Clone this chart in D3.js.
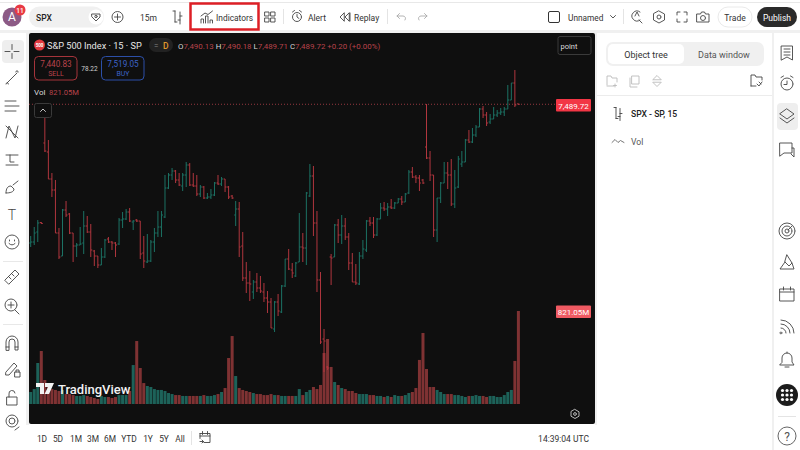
<!DOCTYPE html>
<html>
<head>
<meta charset="utf-8">
<script src="https://cdn.jsdelivr.net/npm/d3@7"></script>
<style>
  html, body { margin: 0; padding: 0; background: #fff; overflow: hidden; }
  svg { display: block; font-family: Roboto, sans-serif; }
</style>
</head>
<body>
<div id="chart"></div>
<script>
// price bars
const opens = [7351,7352,7362,7371.5,7451,7442,7415,7404,7361,7338,7384,7380,7361,7348,7349,7351,7368,7362,7343,7338,
  7329,7337,7355,7352,7351,7350,7374,7375,7382,7372,7374,7373,7341,7332,7333,7352,7361,7367,7377,7406,
  7419,7423,7414,7408,7419,7429,7409,7408,7400,7407,7396,7397,7399,7411,7410,7415,7407,7398,7379,7385,
  7348,7316,7311,7302,7312,7306,7302,7296,7292,7265,7292,7282,7308,7335,7324,7318,7332,7347,7346,7398,
  7418,7371,7314,7255,7227,7337,7337,7369,7359,7368,7357,7331,7312,7310,7338,7344,7373,7371,7359,7375,
  7386,7385,7387,7386,7391,7395,7392,7401,7422,7417,7416,7414,7447,7436,7419,7364,7396,7411,7421,7419,
  7390,7407,7430,7432,7454,7452,7459,7467,7485,7479,7472,7475,7479,7481,7482,7485,7494,7511,7490.13];
const highs = [7358,7367,7374,7372,7481,7454,7421,7414,7366,7385,7393,7381,7361,7351,7367,7383,7378,7370,7344,7338,
  7346,7355,7357,7353,7352,7376,7382,7385,7386,7374,7375,7373,7358,7360,7354,7366,7383,7383,7419,7421,
  7426,7424,7421,7421,7432,7431,7421,7419,7409,7408,7401,7405,7412,7419,7417,7415,7408,7399,7393,7392,
  7362,7332,7323,7314,7321,7318,7311,7303,7296,7293,7300,7309,7335,7345,7331,7332,7381,7361,7402,7430,
  7428,7383,7322,7265,7228,7340,7370,7375,7379,7376,7361,7341,7330,7342,7354,7374,7377,7377,7376,7391,
  7392,7391,7395,7392,7396,7398,7401,7424,7427,7419,7419,7415,7490,7443,7419,7396,7412,7432,7432,7435,
  7424,7438,7443,7455,7464,7466,7469,7486,7488,7482,7480,7487,7484,7486,7487,7509,7511,7524,7490.18];
const lows = [7347,7349,7352,7370,7442,7415,7397,7361,7335,7338,7377,7360,7332,7337,7349,7340,7361,7337,7328,7326,
  7329,7336,7351,7344,7337,7349,7366,7374,7372,7364,7372,7335,7326,7331,7332,7342,7357,7357,7376,7405,
  7414,7411,7408,7403,7407,7408,7407,7398,7397,7395,7395,7395,7398,7409,7408,7402,7395,7395,7368,7337,
  7313,7301,7293,7295,7302,7301,7292,7281,7266,7262,7278,7281,7307,7324,7316,7317,7332,7332,7329,7397,
  7358,7302,7250,7222,7224,7309,7337,7351,7350,7354,7324,7312,7309,7309,7335,7342,7368,7356,7358,7375,
  7383,7378,7385,7385,7391,7389,7392,7400,7416,7411,7403,7410,7435,7413,7357,7352,7391,7411,7405,7388,
  7386,7406,7427,7432,7451,7451,7457,7467,7476,7468,7470,7475,7477,7479,7478,7485,7494,7487,7489.71];
const closes = [7352,7361,7371,7370.5,7443,7415,7404,7361,7337,7384,7379,7361,7348,7349,7350,7368,7362,7344,7338,7329,
  7337,7354,7352,7351,7349,7374,7375,7382,7373,7373,7373,7340,7333,7333,7352,7361,7367,7379,7406,7419,
  7423,7414,7409,7419,7429,7409,7408,7400,7407,7396,7397,7399,7411,7410,7415,7407,7397,7396,7385,7347,
  7316,7311,7310,7312,7306,7303,7296,7292,7266,7292,7283,7308,7335,7325,7321,7331,7347,7346,7401,7418,
  7371,7314,7252,7253,7226,7336,7369,7359,7368,7357,7331,7312,7311,7338,7345,7373,7371,7359,7375,7386,
  7385,7387,7386,7391,7395,7392,7400,7422,7417,7416,7411,7411,7436,7419,7364,7396,7411,7421,7419,7390,
  7406,7435,7432,7454,7452,7459,7467,7485,7479,7471,7475,7479,7481,7482,7485,7494,7511,7489,7489.72];
// volume in millions
const volumes = [106,132,362,468,212,159,132,124,115,124,88,88,79,71,71,79,71,62,53,44,
  71,62,62,53,62,79,79,79,115,344,556,318,185,159,150,132,124,124,115,97,
  88,79,79,71,71,71,71,71,71,79,71,71,79,88,106,141,406,600,247,141,
  124,115,106,97,88,88,79,79,88,79,79,71,71,71,71,71,132,79,106,124,
  150,132,168,450,574,327,194,168,141,132,115,115,97,88,88,88,79,79,71,71,
  62,71,62,79,71,71,79,97,106,141,389,627,309,150,150,124,106,88,88,88,
  79,79,71,62,71,71,79,71,71,62,71,71,62,62,79,106,124,380,821.05];

const rangeLabels = [["1D",42],["5D",58],["1M",76],["3M",93],["6M",110],["YTD",129],["1Y",148],["5Y",164],["All",180]];
const ohlcLabels = [["O","7,490.13"],["H","7,490.18"],["L","7,489.71"],["C","7,489.72"]];

const width = 800;
const height = 450;
const red = "#b0363e";
const teal = "#1c7264";

const svg = d3.select("#chart").append("svg").attr("width", width).attr("height", height);

// scales
const x = d3.scaleLinear().domain([0, opens.length - 1]).range([30.7, 518.4]);
const y = d3.scaleLinear().domain([7490, 7290]).range([104, 304]);
const yVol = d3.scaleLinear().domain([0, 821.05]).range([404, 311]);

function text(s, px, py, size, fill, opts = {}) {
  return svg.append("text")
    .attr("x", px).attr("y", py)
    .attr("font-size", size).attr("fill", fill)
    .attr("text-anchor", opts.anchor || "start")
    .attr("font-weight", opts.weight || 400)
    .text(s);
}

function icon(px, py, d, stroke = "#444", w = 0.9) {
  svg.append("path")
    .attr("transform", `translate(${px},${py})`)
    .attr("d", d).attr("fill", "none")
    .attr("stroke", stroke).attr("stroke-width", w)
    .attr("stroke-linecap", "round").attr("stroke-linejoin", "round");
}

function rect(rx, ry, w, h, fill, opts = {}) {
  return svg.append("rect")
    .attr("x", rx).attr("y", ry).attr("width", w).attr("height", h)
    .attr("rx", opts.r || 0).attr("fill", fill)
    .attr("stroke", opts.stroke || "none")
    .attr("stroke-width", opts.sw || 1);
}

// page frame
rect(0, 2, 800, 1, "#e8e8e8");
rect(0, 30, 800, 3, "#f0f0f0");
rect(26, 33, 3, 392, "#f0f0f0");
rect(595, 33, 2, 392, "#f0f0f0");
rect(772, 33, 2, 417, "#f0f0f0");
rect(29, 33, 566, 391, "#0f0f0f", { r: 2 });

// volume bars
svg.append("g").selectAll("rect")
  .data(volumes)
  .join("rect")
  .attr("x", (d, i) => x(i) - 1.5)
  .attr("width", 3)
  .attr("y", (d) => yVol(d))
  .attr("height", (d) => yVol(0) - yVol(d))
  .attr("fill", (d, i) => (closes[i] >= opens[i] ? "#1d6259" : "#7f3233"));

// ohlc bars
const bars = svg.append("g").selectAll("path")
  .data(opens)
  .join("path")
  .attr("fill", "none")
  .attr("stroke-width", 1)
  .attr("stroke", (d, i) => (closes[i] >= opens[i] ? teal : red))
  .attr("d", (d, i) => {
    const cx = x(i);
    return `M${cx},${y(highs[i])}V${y(lows[i])}M${cx - 1.5},${y(opens[i])}H${cx}M${cx},${y(closes[i])}H${cx + 1.5}`;
  });

// last price line and labels
const lastY = y(closes[closes.length - 1]);
svg.append("line").attr("x1", 29).attr("x2", 556).attr("y1", lastY).attr("y2", lastY)
  .attr("stroke", "#b8434c").attr("stroke-width", 0.8).attr("stroke-dasharray", "1 2");
rect(556, 99, 35, 12.5, "#f23645", { r: 1 });
text("7,489.72", 573.5, 108.5, 8, "#fff", { anchor: "middle" });
rect(556, 305.5, 35, 12.5, "#ef5a62", { r: 1 });
text("821.05M", 573.5, 315, 8, "#fff", { anchor: "middle" });

// legend
svg.append("circle").attr("cx", 39.5).attr("cy", 45).attr("r", 5.5).attr("fill", "#e23a3f");
text("500", 39.5, 47, 4.5, "#fff", { anchor: "middle", weight: 700 });
text("S&P 500 Index · 15 · SP", 47, 49, 9.2, "#e6e6e6");
rect(149, 38, 24, 14, "#222", { r: 7 });
text("=", 154, 48, 8, "#888");
text("D", 163, 48.5, 8.5, "#e09a2b", { weight: 500 });

const ohlc = svg.append("text").attr("x", 178).attr("y", 48.5).attr("font-size", 7.9);
ohlcLabels.forEach(([k, v]) => {
  ohlc.append("tspan").attr("fill", "#d8d8d8").text(k);
  ohlc.append("tspan").attr("fill", "#b9434b").text(v + " ");
});
ohlc.append("tspan").attr("fill", "#b9434b").text("+0.20 (+0.00%)");

rect(558, 36.5, 33, 18, "#0f0f0f", { r: 2, stroke: "#3a3a3a" });
text("point", 560.5, 48.5, 7.5, "#dcdcdc");

rect(34.5, 56.5, 42.5, 23.5, "#0f0f0f", { r: 4, stroke: "#a5343b" });
text("7,440.83", 56, 66.5, 8.2, "#b9434b", { anchor: "middle" });
text("SELL", 56, 76, 7, "#b9434b", { anchor: "middle" });
text("78.22", 89.5, 71, 6.5, "#cfcfcf", { anchor: "middle" });
rect(101.5, 56.5, 42.5, 23.5, "#0f0f0f", { r: 4, stroke: "#2c4fa8" });
text("7,519.05", 123, 66.5, 8.2, "#3d63c9", { anchor: "middle" });
text("BUY", 123, 76, 7, "#3d63c9", { anchor: "middle" });
text("Vol", 34, 95, 8, "#d8d8d8");
text("821.05M", 49, 95, 7.6, "#b9434b");
rect(34.5, 103.5, 17, 14, "#0f0f0f", { r: 2, stroke: "#3a3a3a" });
icon(43, 110.5, "M-2.5,1L0,-1.5L2.5,1", "#d8d8d8");

// watermark
svg.append("path").attr("transform", "translate(36,383)").attr("fill", "#f2f2f2")
  .attr("d", "M0,0H8V11H4V4H0ZM9,0H18L13,11H8.5L12,4H9Z");
text("TradingView", 58, 394, 13, "#f2f2f2", { weight: 500 });
icon(575, 414, "M0,-4.5L4,-2.2V2.2L0,4.5L-4,2.2V-2.2ZM1.4,0A1.4,1.4 0 1 1 -1.4,0A1.4,1.4 0 1 1 1.4,0", "#c8c8c8");

// top bar
svg.append("circle").attr("cx", 12).attr("cy", 17).attr("r", 9.5).attr("fill", "#8c5a85");
text("A", 12, 21, 12, "#fff", { anchor: "middle" });
svg.append("circle").attr("cx", 20).attr("cy", 10).attr("r", 5.5).attr("fill", "#e83a44");
text("11", 20, 12.5, 6.5, "#fff", { anchor: "middle", weight: 500 });
rect(29, 6.5, 75, 21, "#f0f0f0", { r: 10.5 });
text("SPX", 36, 20.5, 8.5, "#222", { weight: 500 });
svg.append("circle").attr("cx", 96).attr("cy", 17).attr("r", 7.5).attr("fill", "#fff");
icon(96, 17, "M-4,-3H4L4,0L0,4L-4,0ZM1.2,-0.5A1.2,1.2 0 1 1 -1.2,-0.5A1.2,1.2 0 1 1 1.2,-0.5");
svg.append("circle").attr("cx", 117.5).attr("cy", 17).attr("r", 5.5).attr("fill", "none").attr("stroke", "#444").attr("stroke-width", 0.9);
icon(117.5, 17, "M-3,0H3M0,-3V3");
text("15m", 140, 20.5, 8.5, "#333");
icon(178, 17, "M-3,-6V5M-3,-6H-5M-3,5H-1M2,-5V7M2,-1H4M2,3H0");

rect(190.5, 3.5, 68, 26, "none", { stroke: "#dd1f26", sw: 2.5 });
icon(207, 17, "M-6,6V2H-3.5V6M-1.5,6V-1H1V6M3,6V3H5.5V6M-6,-1L-2,-4L1,-2.5L5.5,-6");
text("Indicators", 216, 20.5, 8.4, "#333");
icon(270, 17, "M-5,-5H-1V-1H-5ZM1,-5H5V-1H1ZM-5,1H-1V5H-5ZM1,1H5V5H1Z");
rect(283, 9, 1, 15, "#e4e4e4");
icon(297, 17, "M4.5,0A4.5,4.5 0 1 1 -4.5,0A4.5,4.5 0 1 1 4.5,0M0,-2.5V0L2,1.5M-4.5,-5L-2.5,-6.5M4.5,-5L2.5,-6.5");
text("Alert", 308, 20.5, 8.5, "#333");
icon(345, 17, "M-1,-4L-5,0L-1,4ZM4,-4L0,0L4,4ZM5,-4V4");
text("Replay", 354, 20.5, 8.5, "#333");
rect(387, 9, 1, 15, "#e4e4e4");
icon(401, 17, "M-1.5,-3.5L-4,-1L-1.5,1.5M-4,-1H2A2.5,2.5 0 0 1 4,3", "#aaa");
icon(423, 17, "M1.5,-3.5L4,-1L1.5,1.5M4,-1H-2A2.5,2.5 0 0 0 -4,3", "#aaa");
rect(548.5, 11.5, 11, 11, "none", { r: 1.5, stroke: "#333" });
text("Unnamed", 568, 20.5, 8.3, "#333");
icon(613, 16.5, "M-2.5,-1L0,1.5L2.5,-1");
rect(623, 9, 1, 15, "#e4e4e4");
icon(637, 17, "M3,-5A5,5 0 1 0 3,3M-2,-1L0,-5L2,-1M2,3L5,6");
icon(659, 17, "M0,-6L5.5,-3V3L0,6L-5.5,3V-3ZM2,0A2,2 0 1 1 -2,0A2,2 0 1 1 2,0");
icon(682, 17, "M-5,-2V-5H-2M2,-5H5V-2M5,2V5H2M-2,5H-5V2");
icon(703, 17, "M-6,-3H-2.5L-1.5,-5H1.5L2.5,-3H6V5H-6ZM2.5,1A2.5,2.5 0 1 1 -2.5,1A2.5,2.5 0 1 1 2.5,1");
rect(718, 7, 34, 20, "#fff", { r: 10, stroke: "#eaeaea" });
text("Trade", 735, 20.5, 8.5, "#333", { anchor: "middle" });
rect(757, 7, 40, 20, "#2a2a2a", { r: 10 });
text("Publish", 777, 20.5, 8.5, "#fff", { anchor: "middle" });

// bottom bar
rangeLabels.forEach(([s, px]) => text(s, px, 441.5, 8.4, "#333", { anchor: "middle" }));
rect(191, 431, 1, 14, "#e4e4e4");
icon(205, 437.5, "M-5,-4H5V5H-1M-5,-4V1M-5,-1.5H5M-2.5,-6V-3M2.5,-6V-3M-5,4H-1.5M-3,2.5L-1.5,4L-3,5.5");
text("14:39:04 UTC", 589, 441.5, 8.5, "#333", { anchor: "end" });

// object tree panel
rect(606, 42, 158, 24, "#f0f0f0", { r: 7 });
rect(608, 44, 76, 20, "#fff", { r: 5 });
text("Object tree", 646, 57.5, 9, "#333", { anchor: "middle" });
text("Data window", 724, 57.5, 9, "#555", { anchor: "middle" });
icon(612, 81, "M-5,4V-5H-1L0,-3H5V1M-5,5H2M3,3V6M1.5,4.5H4.5", "#bbb");
icon(635, 81, "M-3,-5H4V3H-3ZM-5,-3V6H2", "#bbb");
icon(657, 81, "M-4,-1.5L0,-5.5L4,-1.5ZM-4,1.5L0,5.5L4,1.5Z", "#bbb");
icon(757, 81, "M-6,5V-6H-2L-1,-4H5V-1M-6,5H-1M0,3L2,5L5,1M2,1L4,3");
rect(597, 95, 175, 1, "#ececec");
icon(618, 113.5, "M-2,-6V5M-2,-6H-4M-2,5H0M2,-5V7M2,0H4M2,3H0");
text("SPX - SP, 15", 631, 116.5, 8.6, "#222", { weight: 500 });
icon(618, 141.5, "M-6,1L-3,-2L0,1L2.5,-1L6,1", "#666");
text("Vol", 631, 144.5, 8.6, "#555");

// right toolbar
rect(777, 103, 21, 27, "#eeeeee", { r: 4 });
icon(787, 53, "M-5.5,-7H5.5V7L0,4L-5.5,7ZM-3,-4H3M-3,-1H3M-3,2H3");
icon(787, 84, "M6,0A6,6 0 1 1 -6,0A6,6 0 1 1 6,0M0,-3V0.5H-3M-6,-6.5L-3.5,-8M6,-6.5L3.5,-8");
icon(787, 116, "M0,-7L7,-2L0,3L-7,-2ZM-7,2L0,7L7,2");
icon(787, 150, "M-7,-7H5V3H-3L-7,6ZM5,-2H7V7L4,4");
icon(787, 231, "M8,0A8,8 0 1 1 -8,0A8,8 0 1 1 8,0M5,0A5,5 0 1 1 -5,0A5,5 0 1 1 5,0M2,0A2,2 0 1 1 -2,0A2,2 0 1 1 2,0M1,-1L5,-5");
icon(787, 263, "M0,-8L5,0L2,3L-2,-1ZM-2,-1L-7,6H7L5,0");
icon(787, 294, "M-7,-5H7V7H-7ZM-7,-2H7M-3.5,-7V-4M3.5,-7V-4");
icon(787, 327, "M-6,-7A13,13 0 0 1 7,6M-6,-3A9,9 0 0 1 3,6M-6,1A5,5 0 0 1 -1,6M-5,6A1,1 0 1 1 -5,5.9");
icon(787, 360, "M-7,5H7L5,2V-2A5,5 0 0 0 -5,-2V2ZM-2,7H2M0,-7V-8");
svg.append("circle").attr("cx", 787).attr("cy", 395).attr("r", 11).attr("fill", "#1c1c1c");
svg.append("g").selectAll("circle")
  .data(d3.cross([-4.5, 0, 4.5], [-4.5, 0, 4.5]))
  .join("circle")
  .attr("cx", (d) => 787 + d[0]).attr("cy", (d) => 395 + d[1])
  .attr("r", 1.6).attr("fill", "#fff");
rect(778, 416, 18, 1, "#e4e4e4");
svg.append("circle").attr("cx", 787).attr("cy", 436).attr("r", 9).attr("fill", "none").attr("stroke", "#555").attr("stroke-width", 0.9);
text("?", 787, 440.5, 12, "#555", { anchor: "middle" });

// left toolbar
rect(2, 40, 22, 23, "#eeeeee", { r: 4 });
icon(12, 51.5, "M-7,0H-2M2,0H7M0,-7V-2M0,2V7");
icon(12, 78, "M-5,5L5,-5M-6,6A1.2,1.2 0 1 1 -3.6,6M3.8,-6A1.2,1.2 0 1 1 6.2,-6");
icon(12, 106, "M-7,-5H4M-7,0H7M-7,5H4");
icon(12, 132, "M-6,6L-3,-6L3,6L6,-6M-6,-6L6,6");
icon(12, 160, "M-6,-5H6M-6,5H6M-2,-5V2H2");
icon(12, 187, "M-6,6C-6,1 -4,-1 -1,-1L2,2C2,5 -2,6 -6,6M1,-2L6,-6");
text("T", 12, 220, 14, "#444", { anchor: "middle", weight: 300 });
svg.append("circle").attr("cx", 12).attr("cy", 242).attr("r", 7).attr("fill", "none").attr("stroke", "#444").attr("stroke-width", 0.9);
icon(12, 242, "M-3,1.5Q0,4.5 3,1.5M-2.5,-2V-1M2.5,-2V-1");
rect(3, 261, 20, 1, "#e8e8e8");
icon(12, 277, "M-7,3L3,-7L7,-3L-3,7ZM-3.5,-0.5L-1,2M-0.5,-3.5L2,-1");
icon(12, 306, "M5,-1A6,6 0 1 1 -7,-1A6,6 0 1 1 5,-1M3,4L7,8M-4,-1H2M-1,-4V2");
rect(3, 324, 20, 1, "#e8e8e8");
icon(12, 343, "M-6,7V-1A6,6 0 0 1 6,-1V7H3V-1A3,3 0 0 0 -3,-1V7ZM-6,4H-3M3,4H6");
icon(12, 369, "M-6,3L2,-6L5,-3L-3,6H-6ZM3,3H8V8H3ZM4,3V1H7V3");
icon(12, 398, "M-5,-1H5V7H-5ZM-3,-1V-4A3,3 0 0 1 3,-5");
icon(12, 423, "M6,-2A6,6 0 1 1 -6,-2A6,6 0 1 1 6,-2M3,-2A3,3 0 1 1 -3,-2A3,3 0 1 1 3,-2M3,7L7,4");
</script>
</body>
</html>
